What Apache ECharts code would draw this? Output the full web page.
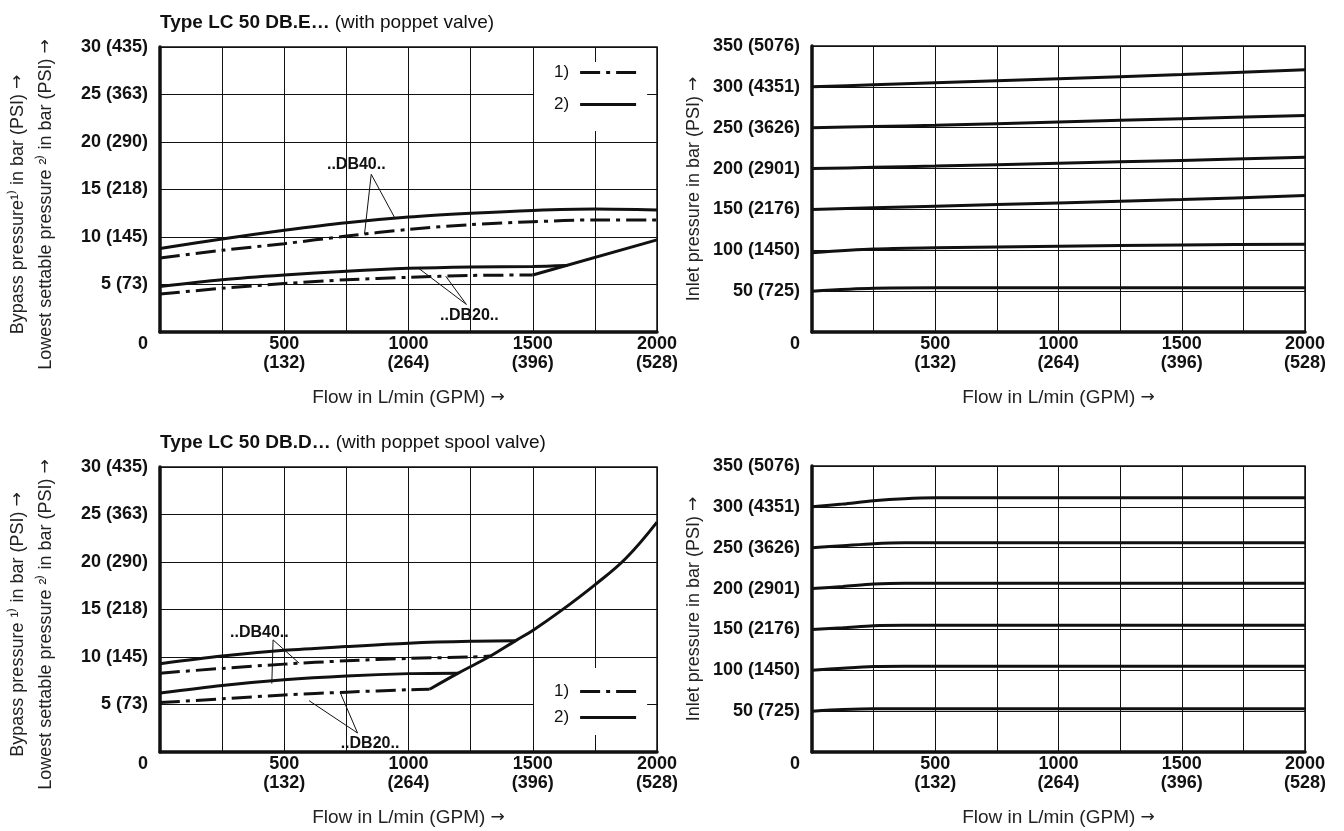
<!DOCTYPE html>
<html>
<head>
<meta charset="utf-8">
<script src="https://cdn.jsdelivr.net/npm/echarts@6/dist/echarts.min.js"></script>
<style>
  html, body { margin: 0; padding: 0; background: #fff; }
  #chart { width: 1344px; height: 831px; }
</style>
</head>
<body>
<div id="chart"></div>
<script>
// ---- data ----
var flowTicks = [0, 500, 1000, 1500, 2000];
var gpmTicks = ['', '(132)', '(264)', '(396)', '(528)'];
var barTicksLeft = [5, 10, 15, 20, 25, 30];
var psiTicksLeft = ['(73)', '(145)', '(218)', '(290)', '(363)', '(435)'];
var barTicksRight = [50, 100, 150, 200, 250, 300, 350];
var psiTicksRight = ['(725)', '(1450)', '(2176)', '(2901)', '(3626)', '(4351)', '(5076)'];

// top left: LC 50 DB.E (poppet valve)
var tlFlow = [0, 250, 500, 750, 1000, 1250, 1500, 1750, 2000];
var tlDb40Bypass = [7.8, 8.6, 9.3, 10.1, 10.8, 11.3, 11.6, 11.8, 11.8];
var tlDb40Lowest = [8.8, 9.8, 10.7, 11.5, 12.1, 12.5, 12.8, 12.95, 12.85];
var tlDb20LowestFlow = [0, 250, 500, 750, 1000, 1250, 1500, 1640];
var tlDb20Lowest = [4.8, 5.5, 6.0, 6.4, 6.7, 6.85, 6.9, 7.0];
var tlDb20BypassFlow = [0, 250, 500, 750, 1000, 1250, 1500];
var tlDb20Bypass = [4.0, 4.6, 5.1, 5.5, 5.75, 5.95, 6.0];
var tlLimitFlow = [1500, 2000];
var tlLimit = [6.0, 9.7];

// bottom left: LC 50 DB.D (poppet spool valve)
var blDb40LowestFlow = [0, 250, 500, 750, 1000, 1250, 1430];
var blDb40Lowest = [9.3, 10.1, 10.7, 11.1, 11.45, 11.65, 11.7];
var blDb40BypassFlow = [0, 250, 500, 750, 1000, 1250, 1330];
var blDb40Bypass = [8.3, 8.8, 9.25, 9.6, 9.85, 10.0, 10.1];
var blDb20LowestFlow = [0, 250, 500, 750, 1000, 1200];
var blDb20Lowest = [6.2, 7.0, 7.6, 8.0, 8.25, 8.3];
var blDb20BypassFlow = [0, 250, 500, 750, 1000, 1085];
var blDb20Bypass = [5.2, 5.6, 6.0, 6.3, 6.55, 6.6];
var blLimitFlow = [1085, 1200, 1330, 1430, 1500, 1610, 1750, 1875, 2000];
var blLimit = [6.6, 8.3, 10.1, 11.7, 12.8, 14.8, 17.6, 20.4, 24.2];

// top right: inlet pressure, DB.E
var trFlow = [0, 250, 500, 1000, 1500, 2000];
var trInlet = [
  [50, 53.5, 54, 54, 54, 54],
  [97, 101.5, 103, 105, 106.5, 107.5],
  [150, 152, 154, 158, 162, 167],
  [200, 201.5, 203, 206.5, 210, 214],
  [250, 251.5, 253, 257, 261, 265],
  [300, 302.5, 305, 310, 315, 321]
];

// bottom right: inlet pressure, DB.D
var brFlow = [0, 125, 250, 375, 500, 2000];
var brInlet = [
  [50, 52, 53, 53, 53, 53],
  [100, 102.5, 104.5, 105, 105, 105],
  [150, 152, 154.5, 155, 155, 155],
  [200, 202.5, 205.5, 206.5, 206.5, 206.5],
  [250, 252.5, 255, 256, 256, 256],
  [300, 303.5, 307.5, 310, 311, 311]
];

// callouts: label point, apex, and the two curve points they point at
var tlDb40Note = [[790, 17.6], [850, 16.6], [823, 10.3], [945, 12.0]];
var tlDb20Note = [[1245, 1.7], [1233, 2.9], [1040, 6.72], [1150, 5.87]];
var blDb40Note = [[400, 12.6], [455, 11.8], [450, 7.2], [560, 9.35]];
var blDb20Note = [[845, 0.9], [795, 2.0], [600, 5.4], [725, 6.27]];

// ---- chart ----
var FONT = '"Liberation Sans", Arial, sans-serif';
var INK = '#111';
var DASHDOT = [20, 6, 4, 6];
var ICON_DASHDOT = 'path://M0,0H20V3H0Z M26,0H30V3H26Z M36,0H56V3H36Z';
var ICON_SOLID = 'path://M0,0H56V3H0Z';
var ARROW_RICH = { a: { fontFamily: '"DejaVu Sans", sans-serif', fontSize: 17, color: '#222' } };

function pts(xs, ys) {
  return xs.map(function (x, i) { return [x, ys[i]]; });
}

function curve(name, idx, data, dashed, smooth) {
  return {
    type: 'line', name: name, xAxisIndex: idx, yAxisIndex: idx,
    data: data, symbol: 'none', smooth: smooth === undefined ? 0.3 : smooth,
    silent: true, z: 3,
    itemStyle: { color: INK },
    lineStyle: { color: INK, width: 3, type: dashed ? DASHDOT : 'solid' }
  };
}

function note(text, n) {
  return {
    markLine: {
      silent: true, symbol: ['none', 'none'],
      lineStyle: { color: INK, width: 1, type: 'solid' },
      label: { show: false },
      data: [
        [{ coord: n[1] }, { coord: n[2] }],
        [{ coord: n[1] }, { coord: n[3] }]
      ]
    },
    markPoint: {
      silent: true, symbol: 'rect', symbolSize: 0,
      label: { show: true, position: 'inside', formatter: '{b}', color: INK,
               fontFamily: FONT, fontWeight: 'bold', fontSize: 16 },
      data: [{ name: text, coord: n[0] }]
    }
  };
}

function xAxis(idx) {
  return {
    type: 'value', gridIndex: idx, min: 0, max: 2000, interval: 250,
    name: 'Flow in L/min (GPM) {a|\u2192}', nameLocation: 'middle', nameGap: 56,
    nameTextStyle: { fontFamily: FONT, fontSize: 19, color: '#222', rich: ARROW_RICH },
    axisLine: { show: true, onZero: false, lineStyle: { color: INK, width: 3.5 } },
    axisTick: { show: false },
    splitLine: { show: true, lineStyle: { color: INK, width: 1 } },
    axisLabel: {
      margin: 3, color: INK, fontFamily: FONT, fontWeight: 'bold', fontSize: 18, lineHeight: 19,
      rich: { z: { padding: [0, 34, 0, 0] } },
      formatter: function (v) {
        var i = flowTicks.indexOf(v);
        if (i < 0) return '';
        if (v === 0) return '{z|0}';
        return v + '\n' + gpmTicks[i];
      }
    }
  };
}

function yAxis(idx, max, step, ticks, psi, lift, name, gap, pad) {
  return {
    type: 'value', gridIndex: idx, min: 0, max: max, interval: step,
    name: name, nameLocation: 'middle', nameRotate: 90, nameGap: gap,
    nameTextStyle: { fontFamily: FONT, fontSize: 18, color: '#222', lineHeight: 28,
                     padding: pad, rich: ARROW_RICH },
    axisLine: { show: true, lineStyle: { color: INK, width: 3.5 } },
    axisTick: { show: false },
    splitLine: { show: true, lineStyle: { color: INK, width: 1 } },
    axisLabel: {
      margin: 12, color: INK, fontFamily: FONT, fontWeight: 'bold', fontSize: 18,
      padding: lift ? [0, 0, 12, 0] : 0,
      formatter: function (v) {
        var i = ticks.indexOf(v);
        return i < 0 ? '' : v + ' ' + psi[i];
      }
    }
  };
}

function legend(top, pad, gap) {
  return {
    orient: 'vertical', left: 534, top: top,
    data: [{ name: '1)', icon: ICON_DASHDOT }, { name: '2)', icon: ICON_SOLID }],
    itemWidth: 56, itemHeight: 3, itemGap: gap, align: 'right',
    backgroundColor: '#fff', padding: pad, selectedMode: false,
    itemStyle: { color: INK },
    textStyle: { fontFamily: FONT, fontSize: 17, color: INK, padding: [0, 6, 0, 0] }
  };
}

function titleRich(bold, rest, top) {
  return {
    left: 155, top: top,
    text: '{b|' + bold + '} {r|' + rest + '}',
    textStyle: {
      rich: {
        b: { fontFamily: FONT, fontWeight: 'bold', fontSize: 19, color: INK },
        r: { fontFamily: FONT, fontWeight: 'normal', fontSize: 19, color: INK }
      }
    }
  };
}

var series = [];
// top left
series.push(curve('1)', 0, pts(tlFlow, tlDb40Bypass), true));
series.push(curve('2)', 0, pts(tlFlow, tlDb40Lowest), false));
series.push(curve('2)', 0, pts(tlDb20LowestFlow, tlDb20Lowest), false));
series.push(curve('1)', 0, pts(tlDb20BypassFlow, tlDb20Bypass), true));
series.push(Object.assign(curve('limit', 0, pts(tlLimitFlow, tlLimit), false, false), note('..DB40..', tlDb40Note)));
series.push(Object.assign(curve('limit', 0, [], false), note('..DB20..', tlDb20Note)));
// top right
trInlet.forEach(function (row) { series.push(curve('inlet', 1, pts(trFlow, row), false)); });
// bottom left
series.push(curve('1)', 2, pts(blDb40BypassFlow, blDb40Bypass), true));
series.push(curve('2)', 2, pts(blDb40LowestFlow, blDb40Lowest), false));
series.push(curve('2)', 2, pts(blDb20LowestFlow, blDb20Lowest), false));
series.push(curve('1)', 2, pts(blDb20BypassFlow, blDb20Bypass), true));
series.push(Object.assign(curve('limit', 2, pts(blLimitFlow, blLimit), false, 0.4), note('..DB40..', blDb40Note)));
series.push(Object.assign(curve('limit', 2, [], false), note('..DB20..', blDb20Note)));
// bottom right
brInlet.forEach(function (row) { series.push(curve('inlet', 3, pts(brFlow, row), false)); });

var leftName1 = 'Bypass pressure\u00b9\u207e in bar (PSI) {a|\u2192}\nLowest settable pressure \u00b2\u207e in bar (PSI) {a|\u2192}';
var leftName2 = 'Bypass pressure \u00b9\u207e in bar (PSI) {a|\u2192}\nLowest settable pressure \u00b2\u207e in bar (PSI) {a|\u2192}';
var rightName = 'Inlet pressure in bar (PSI) {a|\u2192}';

var myChart = echarts.init(document.getElementById('chart'), null, { renderer: 'canvas' });
var option = {
  animation: false,
  backgroundColor: '#fff',
  title: [
    titleRich('Type LC 50 DB.E\u2026', '(with poppet valve)', 8),
    titleRich('Type LC 50 DB.D\u2026', '(with poppet spool valve)', 428)
  ],
  legend: [
    legend(62, [2, 11, 18, 20], 15),
    legend(668, [15, 11, 9, 20], 9)
  ],
  grid: [
    { left: 160, top: 47, width: 497, height: 285, show: true, borderColor: INK, borderWidth: 1.5 },
    { left: 812, top: 46, width: 493, height: 286, show: true, borderColor: INK, borderWidth: 1.5 },
    { left: 160, top: 467, width: 497, height: 285, show: true, borderColor: INK, borderWidth: 1.5 },
    { left: 812, top: 466, width: 493, height: 286, show: true, borderColor: INK, borderWidth: 1.5 }
  ],
  xAxis: [xAxis(0), xAxis(1), xAxis(2), xAxis(3)],
  yAxis: [
    yAxis(0, 30, 5, barTicksLeft, psiTicksLeft, true, leftName1, 100, [0, 30, 0, 0]),
    yAxis(1, 350, 50, barTicksRight, psiTicksRight, false, rightName, 104, [0, 0, 0, 0]),
    yAxis(2, 30, 5, barTicksLeft, psiTicksLeft, true, leftName2, 100, [0, 30, 0, 0]),
    yAxis(3, 350, 50, barTicksRight, psiTicksRight, false, rightName, 104, [0, 0, 0, 0])
  ],
  series: series
};
myChart.setOption(option);
</script>
</body>
</html>
